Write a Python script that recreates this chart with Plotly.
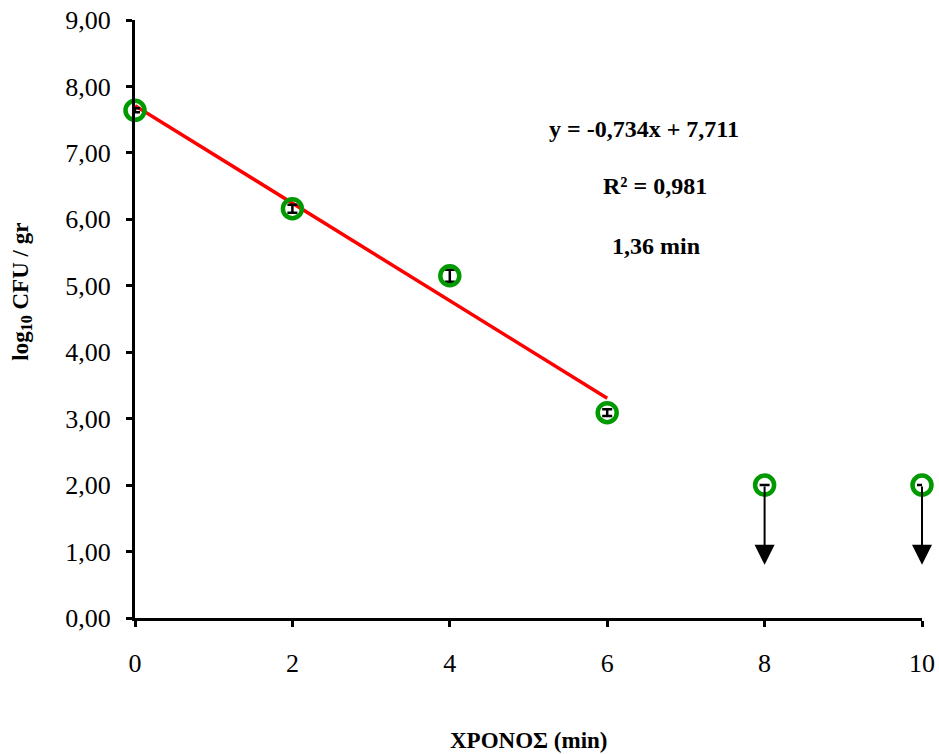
import plotly.graph_objects as go

time_min = [0, 2, 4, 6, 8, 10]
log_cfu = [7.64, 6.16, 5.15, 3.09, 2.00, 2.00]
err = [0.03, 0.06, 0.09, 0.05, 0.0, 0.0]
fit_n = 4
slope = -0.734
intercept = 7.711
arrow_end = 0.80
x_ticks = [0, 2, 4, 6, 8, 10]
y_ticks = [0, 1, 2, 3, 4, 5, 6, 7, 8, 9]
labels = ["y = -0,734x + 7,711", "R² = 0,981", "1,36 min"]

FONT = "Liberation Serif, Times New Roman, serif"
fig = go.Figure()

fit_x = time_min[:fit_n]
fit_y = [slope * t + intercept for t in fit_x]
fig.add_trace(go.Scatter(x=[fit_x[0], fit_x[-1]], y=[fit_y[0], fit_y[-1]], mode="lines",
                         line=dict(color="#ff0000", width=3.5), showlegend=False, cliponaxis=False))

fig.add_trace(go.Scatter(
    x=time_min, y=log_cfu, mode="markers",
    marker=dict(symbol="circle-open", size=19, color="#009900", line=dict(width=4.5, color="#009900")),
    error_y=dict(type="data", array=err, color="black", thickness=2.5, width=5),
    showlegend=False, cliponaxis=False))

annotations = []
for t, v in zip(time_min, log_cfu):
    if t >= 8:
        annotations.append(dict(x=t, y=arrow_end, ax=t, ay=v, xref="x", yref="y", axref="x", ayref="y",
                                showarrow=True, arrowhead=2, arrowsize=2, arrowwidth=2,
                                arrowcolor="black", text=""))

lx = [0.647, 0.661, 0.662]
ly = [0.818, 0.722, 0.622]
for txt, xx, yy in zip(labels, lx, ly):
    annotations.append(dict(x=xx, y=yy, xref="paper", yref="paper", text="<b>" + txt + "</b>",
                            showarrow=False, font=dict(family=FONT, size=24, color="black"),
                            yanchor="middle"))

annotations.append(dict(x=0.5, y=-0.205, xref="paper", yref="paper", text="<b>ΧΡΟΝΟΣ (min)</b>",
                        showarrow=False, font=dict(family=FONT, size=23, color="black"),
                        yanchor="middle"))
annotations.append(dict(x=-0.144, y=0.545, xref="paper", yref="paper", text="<b>log<sub>10</sub> CFU / gr</b>",
                        showarrow=False, textangle=-90, font=dict(family=FONT, size=23, color="black"),
                        xanchor="center", yanchor="middle"))

fig.update_layout(
    width=939, height=754,
    margin=dict(l=135, r=17, t=20, b=136, pad=0),
    paper_bgcolor="white", plot_bgcolor="white",
    separators=",.",
    font=dict(family=FONT, size=26, color="black"),
    annotations=annotations,
    xaxis=dict(range=[0, 10], tickvals=x_ticks, showgrid=False, zeroline=False, automargin=False,
               showline=True, linecolor="black", linewidth=3, ticks="outside", ticklen=6,
               tickwidth=3, tickcolor="black", ticklabelstandoff=14),
    yaxis=dict(range=[0, 9], tickvals=y_ticks, tickformat=".2f", showgrid=False, zeroline=False,
               automargin=False,
               showline=True, linecolor="black", linewidth=3, ticks="outside", ticklen=6,
               tickwidth=3, tickcolor="black", ticklabelstandoff=10),
)

fig.write_html("out.html", config={"displayModeBar": False},
               post_script="document.body.style.margin='0';document.body.style.overflow='hidden';")
